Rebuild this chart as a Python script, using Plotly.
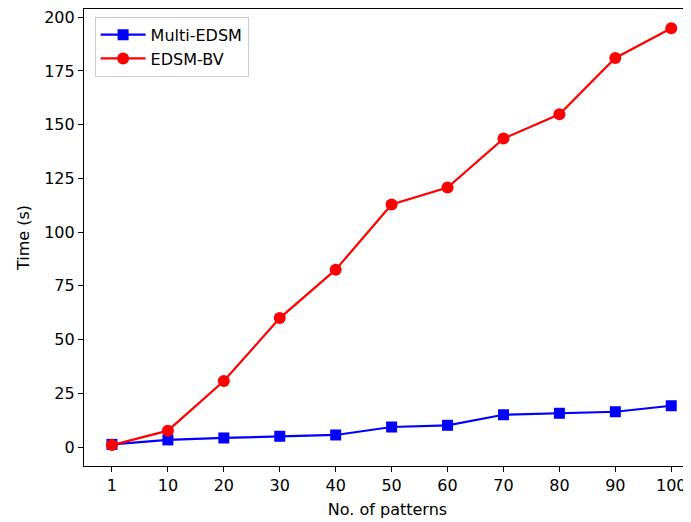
import plotly.graph_objects as go

patterns = ["1", "10", "20", "30", "40", "50", "60", "70", "80", "90", "100"]
multi_edsm = [1.2, 3.3, 4.2, 5.0, 5.6, 9.3, 10.1, 15.0, 15.7, 16.4, 19.2]
edsm_bv = [0.9, 7.6, 30.7, 60.0, 82.5, 112.8, 120.7, 143.5, 154.8, 181.0, 194.8]
y_ticks = [0, 25, 50, 75, 100, 125, 150, 175, 200]

font = "DejaVu Sans"
fs = 16

fig = go.Figure()
fig.add_trace(go.Scatter(
    x=patterns, y=multi_edsm, mode="lines+markers", name="Multi-EDSM",
    line=dict(color="blue", width=2.2),
    marker=dict(symbol="square", size=11, color="blue"),
))
fig.add_trace(go.Scatter(
    x=patterns, y=edsm_bv, mode="lines+markers", name="EDSM-BV",
    line=dict(color="red", width=2.2),
    marker=dict(symbol="circle", size=12, color="red"),
))

axis_common = dict(
    showgrid=False, zeroline=False, showline=True, linecolor="black", linewidth=1.2,
    ticks="outside", ticklen=5, tickwidth=1.1, tickcolor="black",
    tickfont=dict(family=font, size=fs, color="black"),
    automargin=False, ticklabeloverflow="allow",
)

# page has an 8px body margin; figure sized/offset to compensate
fig.update_layout(
    width=683, height=514,
    margin=dict(l=76, r=0, t=1, b=56),
    paper_bgcolor="white", plot_bgcolor="white",
    font=dict(family=font, size=fs, color="black"),
    showlegend=True,
    legend=dict(
        x=0.0175, y=0.983, xanchor="left", yanchor="top",
        bgcolor="rgba(255,255,255,0.8)", bordercolor="#cccccc", borderwidth=1,
        font=dict(family=font, size=fs, color="black"),
        itemwidth=45,
    ),
    xaxis=dict(
        type="category", range=[-0.5, 10.353], mirror=True,
        title=dict(text="No. of patterns", font=dict(family=font, size=fs), standoff=9),
        **axis_common,
    ),
    yaxis=dict(
        range=[-8.84, 203.8], tickvals=y_ticks,
        title=dict(text="Time (s)", font=dict(family=font, size=fs), standoff=10),
        **axis_common,
    ),
)

fig.write_html("out.html")
